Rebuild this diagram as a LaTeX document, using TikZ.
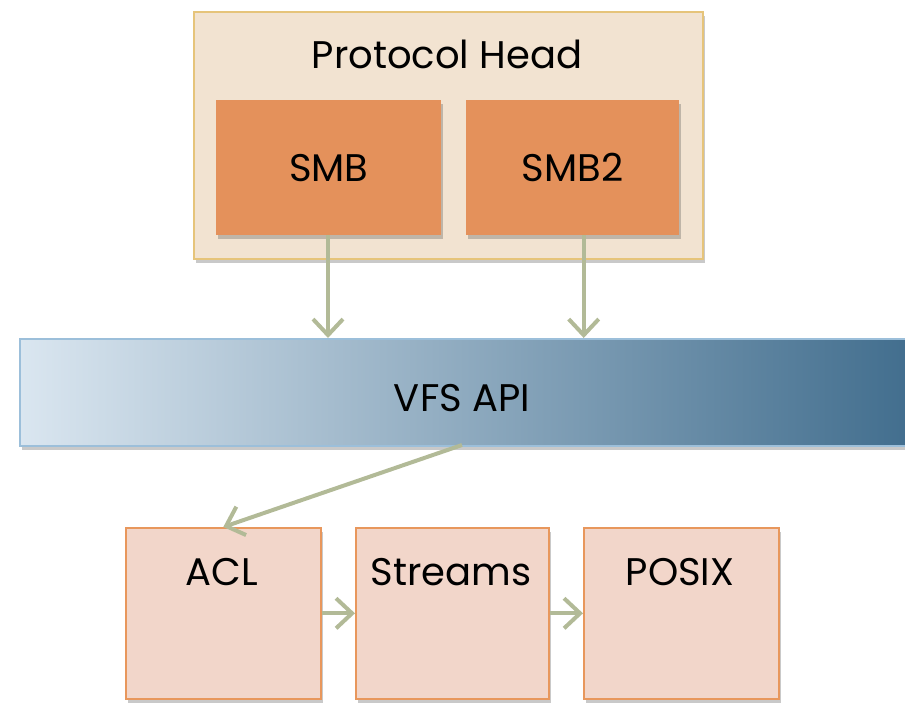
\documentclass[tikz,border=0pt]{standalone}
\usepackage{fontspec}
\setmainfont{Poppins}
\usetikzlibrary{arrows.meta,shadows,calc}
\definecolor{phfill}{HTML}{F2E3D1}
\definecolor{phdraw}{HTML}{E6C47A}
\definecolor{smbfill}{HTML}{E4915B}
\definecolor{lowfill}{HTML}{F2D6CA}
\definecolor{lowdraw}{HTML}{E8975C}
\definecolor{arr}{HTML}{B2BA97}
\definecolor{vfsleft}{HTML}{DAE6F0}
\definecolor{vfsright}{HTML}{426E8E}
\definecolor{vfsdraw}{HTML}{9CBFDA}
\tikzset{
  shadowed/.style={drop shadow={shadow xshift=2pt,shadow yshift=-4pt,opacity=0.3,fill=black!70}},
  outerbox/.style={draw=phdraw,line width=2pt,fill=phfill,shadowed,anchor=north west,inner sep=0pt},
  smbbox/.style={fill=smbfill,draw=none,shadowed,anchor=north west,inner sep=0pt},
  lowbox/.style={draw=lowdraw,line width=1.6pt,fill=lowfill,shadowed,anchor=north west,inner sep=0pt},
  vfsbox/.style={draw=vfsdraw,line width=1.6pt,left color=vfsleft,right color=vfsright,shadowed,anchor=north west,inner sep=0pt},
  lbl/.style={font=\fontsize{38.5}{44}\selectfont,text=black,inner sep=0pt},
  conn/.style={draw=arr,line width=4pt,-{Straight Barb[length=16pt,width=30pt,line width=4pt]}}
}
\begin{document}
\begin{tikzpicture}[x=1pt,y=-1pt]
\useasboundingbox (0,0) rectangle (905,702);
% top group
\node[outerbox,minimum width=509pt,minimum height=247pt] (ph) at (193,11) {};
\node[lbl] (phlbl) at (447,54) {Protocol Head};
\node[smbbox,minimum width=225pt,minimum height=135pt] (smb) at (216,100) {};
\node[lbl] (smblbl) at (smb.center) {SMB};
\node[smbbox,minimum width=213pt,minimum height=135pt] (smb2) at (466,100) {};
\node[lbl] (smb2lbl) at (smb2.center) {SMB2};
% VFS bar
\node[vfsbox,minimum width=890pt,minimum height=107pt] (vfs) at (19,338) {};
\node[lbl] (vfslbl) at (462,398) {VFS API};
% bottom boxes
\node[lowbox,minimum width=195pt,minimum height=171pt] (acl) at (125,527) {};
\node[lbl] (acllbl) at (222,572) {ACL};
\node[lowbox,minimum width=193pt,minimum height=171pt] (streams) at (355,527) {};
\node[lbl] (streamslbl) at (451,572) {Streams};
\node[lowbox,minimum width=195pt,minimum height=171pt] (posix) at (583,527) {};
\node[lbl] (posixlbl) at (680,572) {POSIX};
% connectors
\coordinate (a1) at (smb.south -| 328,0);
\coordinate (a2) at ([xshift=11pt]smb2.south);
\draw[conn] (a1) -- (a1 |- vfs.north);
\draw[conn] (a2) -- (a2 |- vfs.north);
\coordinate (d1) at (462,445);
\draw[conn] (d1) -- (acl.north);
\draw[conn] (acl.east) -- (streams.west);
\draw[conn] (streams.east) -- (posix.west);
\end{tikzpicture}
\end{document}
